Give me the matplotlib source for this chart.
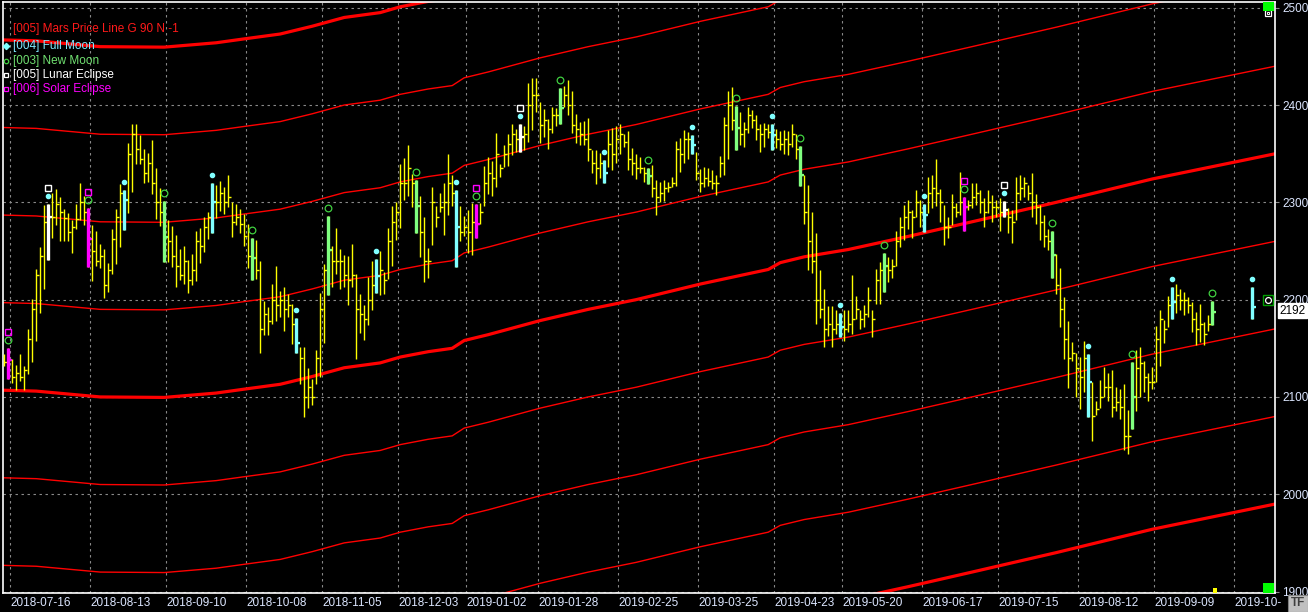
import matplotlib
matplotlib.use("Agg")
import matplotlib.pyplot as plt
import matplotlib.transforms as mtransforms
from matplotlib.patches import Rectangle
import numpy as np

plt.rcParams['font.family'] = ['Liberation Sans', 'DejaVu Sans']

# ---------------- data ----------------
bar_index = list(range(303)) + [312]

highs = [
    2144, 2150, 2139, 2133, 2144, 2132, 2170, 2201, 2232, 2254,
    2297, 2298, 2310, 2314, 2306, 2293, 2289, 2282, 2298, 2320,
    2307, 2294, 2277, 2271, 2257, 2252, 2238, 2273, 2293, 2319,
    2313, 2361, 2381, 2381, 2369, 2355, 2351, 2364, 2335, 2315,
    2301, 2282, 2276, 2266, 2252, 2255, 2241, 2247, 2271, 2274,
    2285, 2290, 2320, 2318, 2322, 2316, 2328, 2300, 2298, 2293,
    2288, 2278, 2263, 2261, 2240, 2199, 2192, 2216, 2235, 2209,
    2213, 2206, 2196, 2181, 2151, 2151, 2130, 2118, 2148, 2207,
    2237, 2286, 2255, 2274, 2252, 2246, 2245, 2257, 2226, 2206,
    2195, 2223, 2240, 2242, 2250, 2228, 2274, 2296, 2300, 2339,
    2346, 2359, 2329, 2323, 2307, 2285, 2253, 2316, 2296, 2310,
    2320, 2350, 2328, 2313, 2296, 2286, 2292, 2299, 2298, 2299,
    2337, 2347, 2342, 2371, 2339, 2359, 2370, 2381, 2375, 2381,
    2378, 2423, 2428, 2428, 2403, 2396, 2386, 2398, 2397, 2418,
    2420, 2426, 2414, 2391, 2383, 2384, 2387, 2354, 2354, 2351,
    2344, 2374, 2376, 2378, 2381, 2370, 2373, 2356, 2350, 2347,
    2336, 2335, 2338, 2323, 2321, 2323, 2321, 2326, 2363, 2366,
    2374, 2372, 2369, 2352, 2334, 2336, 2335, 2333, 2328, 2348,
    2388, 2414, 2419, 2399, 2393, 2383, 2398, 2395, 2390, 2381,
    2382, 2381, 2381, 2375, 2373, 2374, 2373, 2381, 2370, 2358,
    2328, 2318, 2290, 2268, 2230, 2211, 2193, 2193, 2189, 2186,
    2189, 2189, 2225, 2204, 2189, 2194, 2213, 2189, 2232, 2239,
    2248, 2244, 2242, 2271, 2285, 2297, 2302, 2292, 2313, 2302,
    2298, 2326, 2328, 2345, 2314, 2297, 2285, 2309, 2299, 2331,
    2306, 2302, 2320, 2320, 2313, 2304, 2313, 2308, 2302, 2304,
    2301, 2294, 2292, 2326, 2328, 2326, 2318, 2330, 2309, 2297,
    2287, 2273, 2271, 2247, 2233, 2203, 2178, 2156, 2145, 2141,
    2157, 2144, 2115, 2096, 2117, 2131, 2125, 2128, 2110, 2108,
    2113, 2087, 2136, 2148, 2151, 2137, 2125, 2131, 2173, 2189,
    2179, 2204, 2213, 2216, 2211, 2208, 2203, 2198, 2187, 2196,
    2177, 2184, 2199,
    2213,
]

lows = [
    2132, 2118, 2114, 2107, 2116, 2107, 2124, 2136, 2158, 2186,
    2211, 2241, 2263, 2277, 2260, 2260, 2260, 2248, 2273, 2282,
    2277, 2234, 2219, 2235, 2233, 2202, 2208, 2226, 2237, 2254,
    2272, 2289, 2311, 2339, 2339, 2320, 2321, 2309, 2283, 2276,
    2239, 2239, 2234, 2213, 2220, 2216, 2207, 2215, 2219, 2238,
    2249, 2262, 2269, 2284, 2291, 2288, 2295, 2264, 2277, 2269,
    2255, 2233, 2220, 2221, 2145, 2164, 2164, 2175, 2178, 2182,
    2168, 2182, 2154, 2145, 2113, 2079, 2089, 2092, 2113, 2120,
    2155, 2205, 2213, 2226, 2211, 2213, 2194, 2213, 2139, 2166,
    2159, 2174, 2189, 2207, 2205, 2206, 2221, 2235, 2261, 2274,
    2302, 2307, 2295, 2269, 2244, 2218, 2222, 2256, 2275, 2290,
    2266, 2287, 2296, 2234, 2260, 2265, 2248, 2246, 2263, 2278,
    2296, 2309, 2307, 2316, 2326, 2336, 2337, 2349, 2352, 2352,
    2354, 2362, 2374, 2393, 2361, 2367, 2355, 2371, 2378, 2381,
    2398, 2390, 2371, 2361, 2359, 2359, 2342, 2330, 2319, 2325,
    2320, 2336, 2333, 2340, 2350, 2357, 2333, 2328, 2324, 2330,
    2321, 2319, 2306, 2287, 2300, 2301, 2311, 2316, 2317, 2331,
    2340, 2345, 2350, 2323, 2311, 2316, 2317, 2314, 2308, 2326,
    2328, 2345, 2374, 2354, 2359, 2357, 2371, 2376, 2364, 2352,
    2357, 2366, 2354, 2356, 2354, 2350, 2349, 2357, 2345, 2317,
    2278, 2230, 2227, 2175, 2181, 2151, 2163, 2151, 2165, 2162,
    2157, 2167, 2165, 2180, 2170, 2172, 2182, 2162, 2196, 2196,
    2208, 2218, 2222, 2235, 2254, 2261, 2273, 2263, 2285, 2275,
    2270, 2289, 2294, 2296, 2280, 2256, 2263, 2277, 2285, 2287,
    2271, 2292, 2294, 2297, 2289, 2275, 2289, 2280, 2285, 2271,
    2285, 2268, 2258, 2282, 2302, 2306, 2302, 2285, 2278, 2261,
    2254, 2251, 2222, 2206, 2172, 2139, 2109, 2137, 2100, 2088,
    2105, 2079, 2055, 2081, 2089, 2100, 2096, 2079, 2086, 2077,
    2045, 2041, 2067, 2086, 2100, 2105, 2096, 2108, 2115, 2132,
    2155, 2172, 2180, 2186, 2189, 2184, 2186, 2167, 2153, 2156,
    2153, 2168, 2174,
    2180,
]

closes = [
    2136, 2138, 2120, 2125, 2120, 2128, 2160, 2190, 2225, 2245,
    2280, 2285, 2285, 2298, 2290, 2284, 2270, 2275, 2283, 2300,
    2290, 2262, 2250, 2240, 2245, 2215, 2230, 2262, 2285, 2310,
    2302, 2350, 2370, 2355, 2345, 2330, 2340, 2320, 2300, 2290,
    2264, 2260, 2245, 2235, 2225, 2240, 2220, 2230, 2260, 2255,
    2275, 2285, 2300, 2300, 2310, 2300, 2305, 2280, 2285, 2278,
    2265, 2245, 2243, 2230, 2170, 2185, 2178, 2200, 2195, 2200,
    2190, 2195, 2175, 2155, 2140, 2100, 2110, 2100, 2140, 2190,
    2230, 2251, 2240, 2240, 2240, 2225, 2220, 2225, 2190, 2185,
    2180, 2200, 2215, 2224, 2230, 2220, 2260, 2280, 2290, 2320,
    2320, 2335, 2320, 2296, 2270, 2240, 2240, 2300, 2285, 2295,
    2300, 2320, 2310, 2275, 2270, 2275, 2270, 2280, 2278, 2290,
    2320, 2330, 2325, 2350, 2335, 2350, 2360, 2370, 2365, 2367,
    2370, 2400, 2410, 2410, 2380, 2385, 2375, 2390, 2390, 2397,
    2410, 2400, 2380, 2375, 2370, 2365, 2355, 2340, 2335, 2340,
    2330, 2360, 2350, 2365, 2370, 2362, 2345, 2340, 2335, 2335,
    2330, 2327, 2315, 2305, 2310, 2315, 2316, 2320, 2355, 2350,
    2365, 2365, 2359, 2330, 2320, 2325, 2322, 2320, 2320, 2340,
    2380, 2400, 2385, 2376, 2370, 2375, 2390, 2385, 2375, 2370,
    2375, 2372, 2369, 2365, 2360, 2365, 2360, 2370, 2355, 2328,
    2290, 2260, 2240, 2200, 2190, 2170, 2175, 2170, 2175, 2172,
    2170, 2175, 2180, 2190, 2180, 2185, 2200, 2180, 2220, 2230,
    2235, 2230, 2235, 2260, 2275, 2285, 2290, 2285, 2300, 2290,
    2287, 2310, 2315, 2310, 2300, 2275, 2275, 2295, 2290, 2300,
    2295, 2297, 2305, 2310, 2300, 2290, 2300, 2295, 2295, 2290,
    2292, 2285, 2280, 2310, 2315, 2320, 2310, 2300, 2295, 2280,
    2265, 2260, 2246, 2215, 2190, 2160, 2140, 2145, 2130, 2120,
    2140, 2115, 2080, 2088, 2100, 2110, 2110, 2090, 2095, 2090,
    2060, 2060, 2100, 2130, 2135, 2120, 2115, 2115, 2160, 2180,
    2170, 2195, 2198, 2205, 2200, 2200, 2195, 2180, 2170, 2175,
    2165, 2175, 2187,
    2192,
]

full_moon_bars = [11, 30, 52, 73, 93, 113, 129, 150, 172, 192, 209, 230, 250, 271, 292, 312]
new_moon_bars = [1, 21, 40, 62, 81, 103, 118, 139, 161, 183, 199, 220, 240, 262, 282, 302]
lunar_eclipse_bars = [11, 129, 250]
solar_eclipse_bars = [1, 21, 118, 240]

# Mars price line (base harmonic) sampled at bar positions
mars_bar = [-1, 8, 24, 40, 53, 60, 69, 77, 85, 94, 99, 106, 112, 115, 121, 134, 146,
            158, 174, 191, 194, 200, 211, 226, 243, 263, 287, 319]
mars_price = [2107, 2106, 2100, 2099.5, 2104, 2108, 2113, 2121, 2130, 2135, 2141, 2146.5,
              2150, 2158, 2164, 2178.5, 2190, 2200, 2216, 2231, 2238, 2244, 2251.5, 2265,
              2281, 2300, 2324, 2351]
mars_offsets = [-360, -270, -180, -90, 0, 90, 180, 270, 360]

tick_bars = [1, 21, 40, 60, 79, 98, 115, 133, 153, 173, 192, 209, 229, 248, 268, 287, 307]
tick_labels = ['2018-07-16', '2018-08-13', '2018-09-10', '2018-10-08', '2018-11-05',
               '2018-12-03', '2019-01-02', '2019-01-28', '2019-02-25', '2019-03-25',
               '2019-04-23', '2019-05-20', '2019-06-17', '2019-07-15', '2019-08-12',
               '2019-09-09', '2019-10-']
y_ticks = [1900, 2000, 2100, 2200, 2300, 2400, 2500]
last_price = 2192

# ---------------- figure ----------------
W, H = 1308, 612
fig = plt.figure(figsize=(W / 100, H / 100), dpi=100, facecolor='black')
ax = fig.add_axes([3 / W, 19 / H, 1272 / W, 591 / H])
ax.set_facecolor('black')
ax.set_xlim(-0.3, 317.7)
ax.set_ylim(1898.5, 2505.9)

grid_kw = dict(color='#8a8a8a', lw=0.8, ls=(0, (2.2, 3.2)), zorder=1)
for yv in y_ticks:
    ax.axhline(yv, **grid_kw)
for tb in tick_bars:
    ax.axvline(tb + 0.5, **grid_kw)

# Mars price lines
mb = np.array(mars_bar, dtype=float)
mp = np.array(mars_price, dtype=float)
for off in mars_offsets:
    thick = (off % 360 == 0)
    ax.plot(mb, mp + off, color='#ff0000', lw=2.3 if thick else 1.0,
            zorder=2, solid_capstyle='butt')

# OHLC (HLC) bars
xi = np.array(bar_index, dtype=float)
hi = np.array(highs, dtype=float)
lo = np.array(lows, dtype=float)
cl = np.array(closes, dtype=float)
ax.vlines(xi, lo, hi, color='#ffff00', lw=1.0, zorder=3)
ax.hlines(cl, xi, xi + 0.75, color='#ffff00', lw=1.0, zorder=3)

pos = {b: i for i, b in enumerate(bar_index)}
moon_color = {}
for b in full_moon_bars:
    moon_color[b] = '#80ffff'
for b in new_moon_bars:
    moon_color[b] = '#80ff80'
for b in lunar_eclipse_bars:
    moon_color[b] = '#ffffff'
for b in solar_eclipse_bars:
    moon_color[b] = '#ff00ff'
for b, c in moon_color.items():
    i = pos[b]
    ax.vlines(b, lows[i], highs[i], color=c, lw=2.4, zorder=4)
    ax.hlines(closes[i], b - 0.3, b + 0.9, color=c, lw=1.6, zorder=4)

def off_tr(dy):
    return mtransforms.offset_copy(ax.transData, fig=fig, x=0, y=dy, units='dots')

fx = [b for b in full_moon_bars]
fy = [highs[pos[b]] for b in full_moon_bars]
ax.plot(fx, fy, ls='none', marker='o', ms=3.0, mfc='#80ffff', mec='#80ffff',
        transform=off_tr(8), zorder=5, clip_on=False)
nx = [b for b in new_moon_bars]
ny = [highs[pos[b]] for b in new_moon_bars]
ax.plot(nx, ny, ls='none', marker='o', ms=4.8, mfc='none', mec='#40d040', mew=0.9,
        transform=off_tr(8), zorder=5)
lx = [b for b in lunar_eclipse_bars]
ly = [highs[pos[b]] for b in lunar_eclipse_bars]
ax.plot(lx, ly, ls='none', marker='s', ms=5, mfc='none', mec='#ffffff', mew=1.0,
        transform=off_tr(16), zorder=5)
sx = [b for b in solar_eclipse_bars]
sy = [highs[pos[b]] for b in solar_eclipse_bars]
ax.plot(sx, sy, ls='none', marker='s', ms=5, mfc='none', mec='#ff00ff', mew=1.0,
        transform=off_tr(16), zorder=5)

# axes styling
for sp in ax.spines.values():
    sp.set_color('white')
    sp.set_linewidth(1.2)
ax.yaxis.tick_right()
ax.set_yticks(y_ticks)
ax.set_yticklabels([str(v) for v in y_ticks])
ax.tick_params(axis='y', colors='#8a8a8a', labelcolor='#dce6ff', length=3, width=0.8,
               pad=2, labelsize=8.5)
ax.set_xticks([t + 0.5 for t in tick_bars])
ax.set_xticklabels(tick_labels)
ax.tick_params(axis='x', length=0, pad=3, labelcolor='#dce6ff', labelsize=8.5)
for lab in ax.get_xticklabels():
    lab.set_horizontalalignment('left')

# legend texts
def px(x, y):
    return x / W, 1 - y / H

legend_items = [
    ('[005] Mars Price Line G 90 N -1', '#ff1a1a', 29, None),
    ('[004] Full Moon', '#80e8ff', 46, ('D', '#80ffff', '#80ffff')),
    ('[003] New Moon', '#70e070', 61, ('o', 'none', '#40d040')),
    ('[005] Lunar Eclipse', '#ffffff', 75, ('s', 'none', '#ffffff')),
    ('[006] Solar Eclipse', '#ff00ff', 89, ('s', 'none', '#ff00ff')),
]
for txt, col, yy, mk in legend_items:
    fig.text(*px(13, yy), txt, color=col, fontsize=8.5, va='center', ha='left', zorder=10)
    if mk is not None:
        m, fc, ec = mk
        fig.lines.append(plt.Line2D([6 / W], [1 - yy / H], transform=fig.transFigure,
                                    marker=m, ms=3.2, mfc=fc, mec=ec, mew=0.9, ls='none'))

# right side decorations
fig.patches.append(Rectangle((1263 / W, 1 - 11 / H), 11 / W, 9 / H, transform=fig.transFigure,
                             facecolor='#00ff00', edgecolor='none', zorder=6))
fig.patches.append(Rectangle((1263 / W, 1 - 593 / H), 11 / W, 10 / H, transform=fig.transFigure,
                             facecolor='#00ff00', edgecolor='none', zorder=6))
fig.patches.append(Rectangle((1213 / W, 1 - 593 / H), 4 / W, 5 / H, transform=fig.transFigure,
                             facecolor='#ffff00', edgecolor='none', zorder=6))
fig.lines.append(plt.Line2D([1268 / W], [1 - 13 / H], transform=fig.transFigure, marker='s',
                            ms=5, mfc='black', mec='white', mew=0.9, ls='none'))
fig.lines.append(plt.Line2D([1268 / W], [1 - 13 / H], transform=fig.transFigure, marker='s',
                            ms=2, mfc='none', mec='white', mew=0.7, ls='none'))
btr = mtransforms.blended_transform_factory(ax.transAxes, ax.transData)
ax.plot([(1268 - 3) / 1272], [2200], transform=btr, marker='s', ms=7, mfc='black',
        mec='#00a000', mew=1.0, ls='none', zorder=7, clip_on=False)
ax.plot([(1268 - 3) / 1272], [2200], transform=btr, marker='o', ms=4.2, mfc='black',
        mec='white', mew=0.9, ls='none', zorder=8, clip_on=False)
ax.text((1279 - 3) / 1272, last_price - 3.5, str(last_price), transform=btr, fontsize=8.5,
        color='black', va='center', ha='left', zorder=9, clip_on=False,
        bbox=dict(boxstyle='square,pad=0.12', facecolor='white', edgecolor='white'))

fig.patches.append(Rectangle((1288 / W, 0), 20 / W, 17 / H, transform=fig.transFigure,
                             facecolor='#c0c0c0', edgecolor='#808080', lw=0.8, zorder=6))
fig.text(1298 / W, 8.5 / H, 'TF', color='#404040', fontsize=8.5, fontweight='bold',
         ha='center', va='center', zorder=7)

fig.savefig('out.png', dpi=100, facecolor='black')
